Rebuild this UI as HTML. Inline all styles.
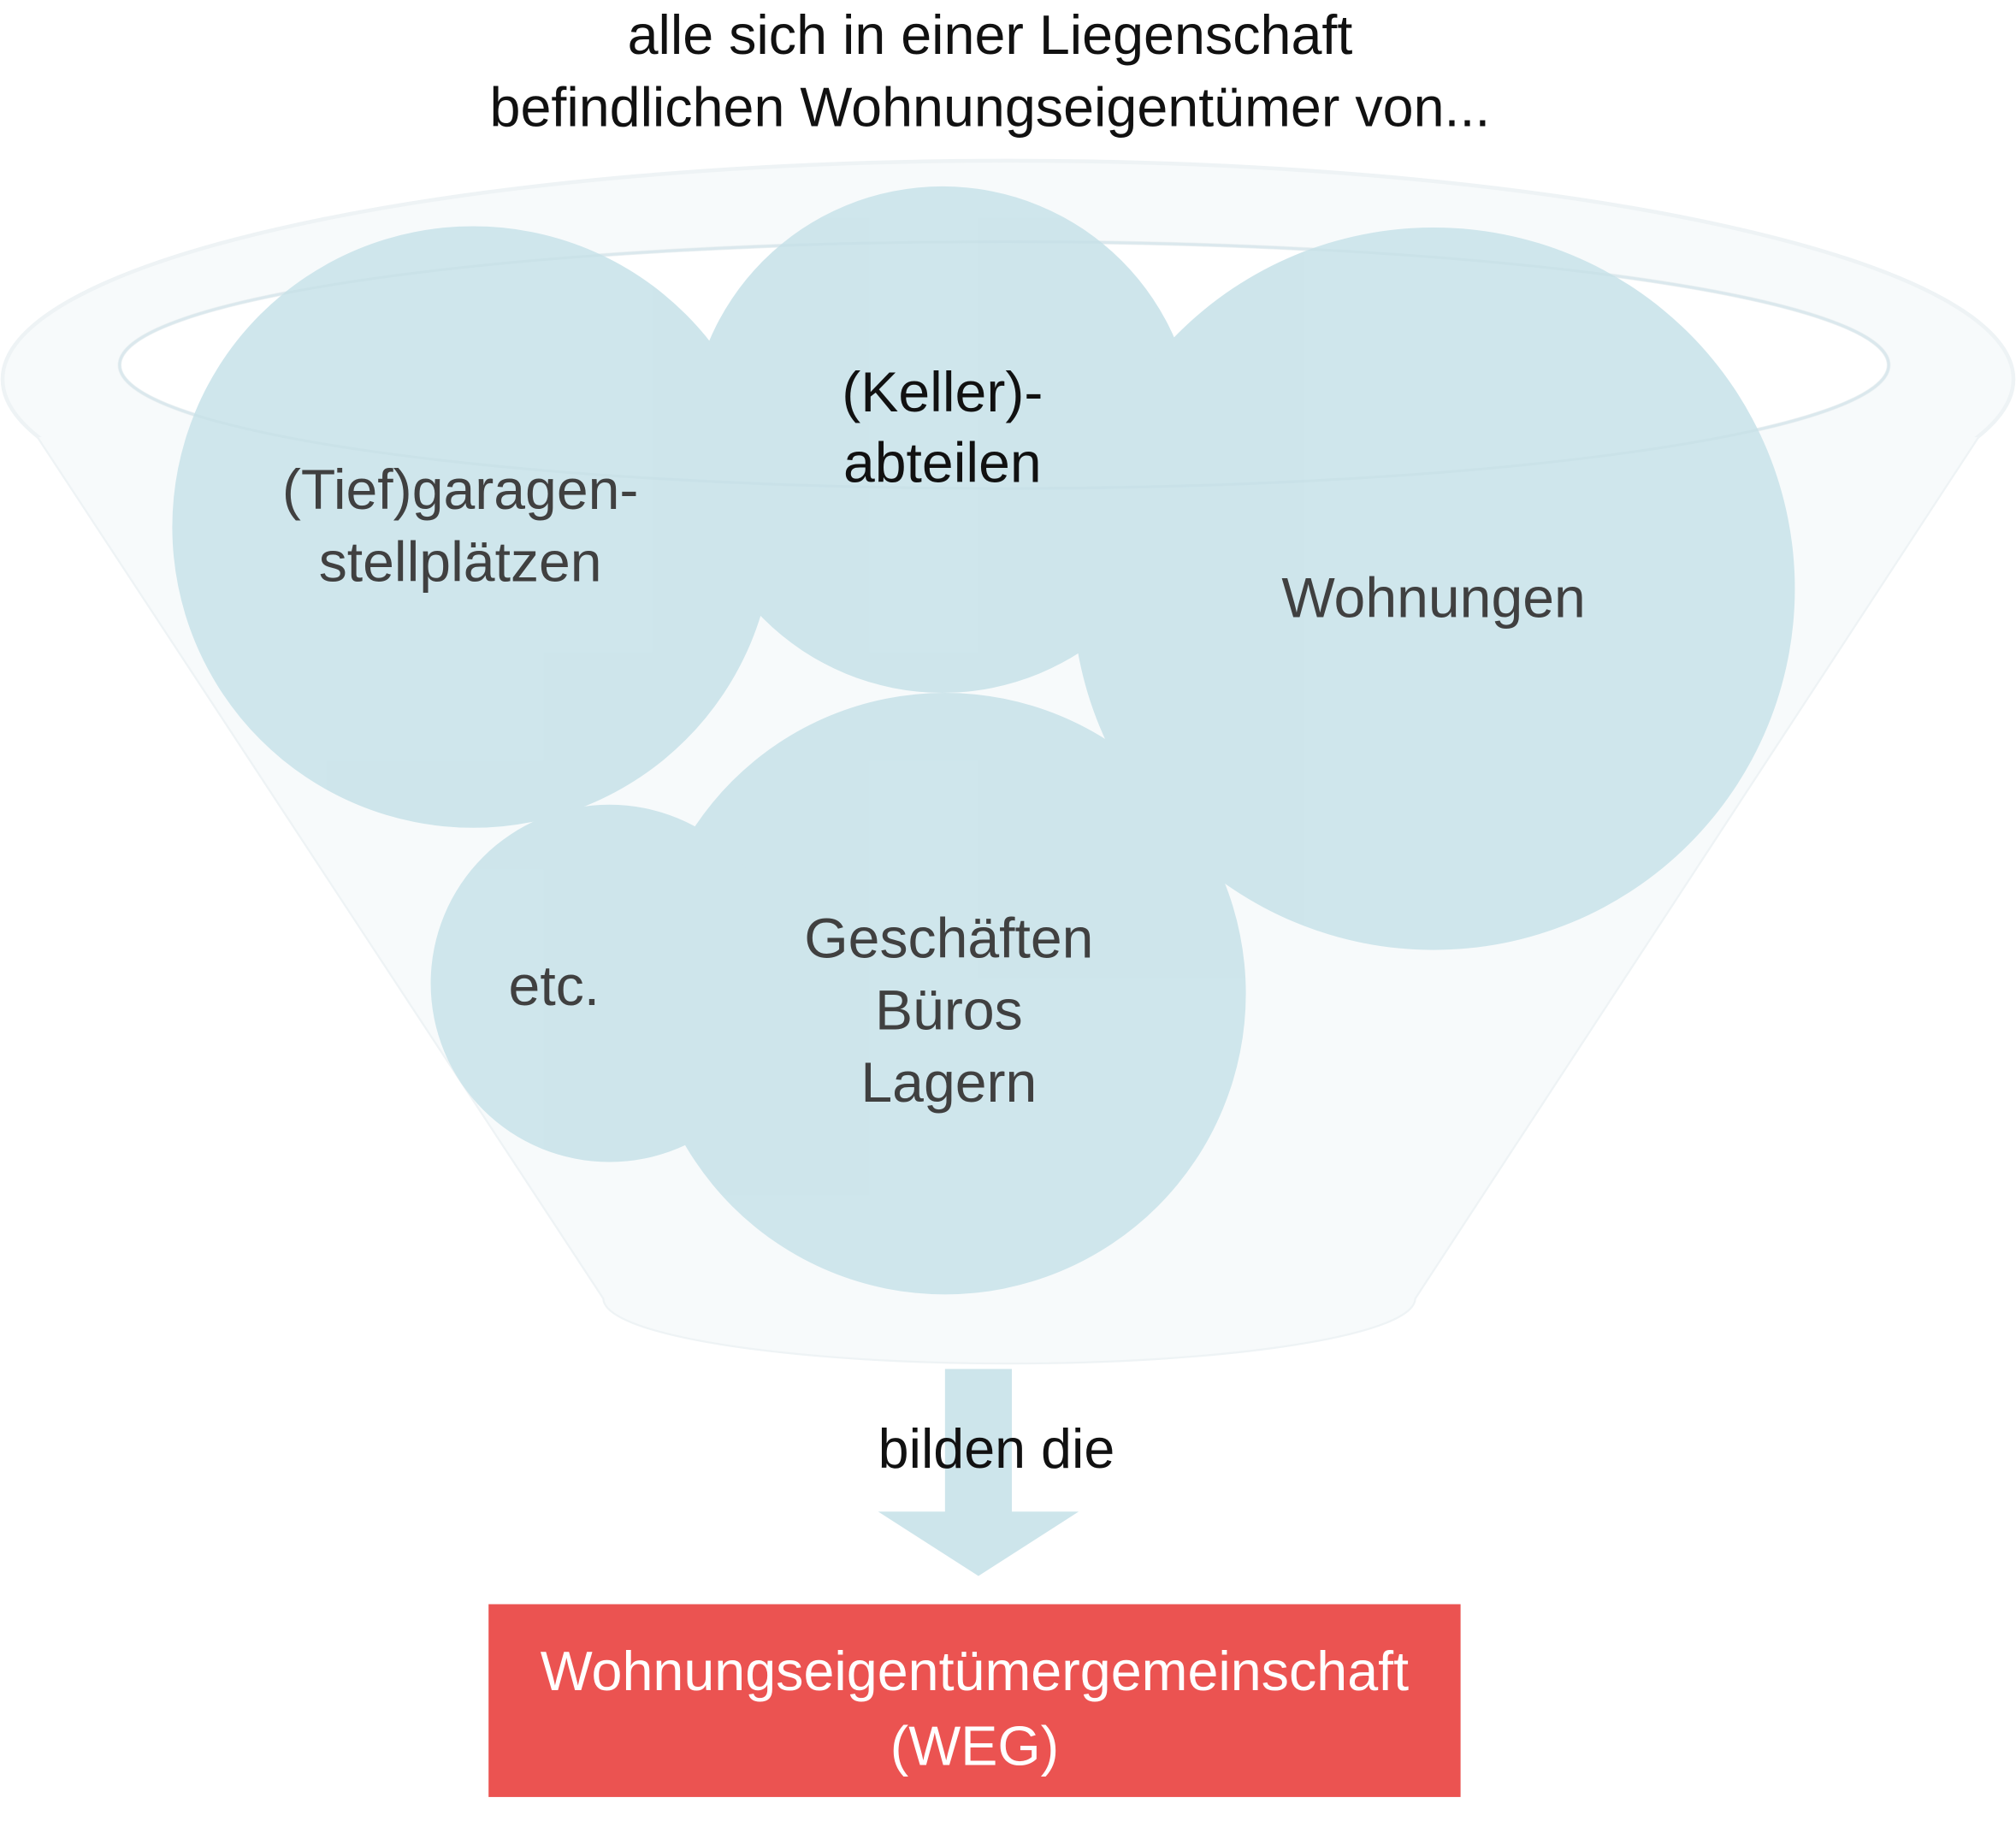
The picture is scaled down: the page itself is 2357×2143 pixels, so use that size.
<!DOCTYPE html>
<html><head><meta charset="utf-8"><style>
html,body{margin:0;padding:0;background:#fff;}
svg{display:block;}
text{font-family:"Liberation Sans",sans-serif;}
</style></head><body>
<svg width="2357" height="2143" viewBox="0 0 1568 1426" preserveAspectRatio="none" xmlns="http://www.w3.org/2000/svg">
<!-- funnel body: strokes first, then fills over to create union outline -->
<path d="M30,340 L470,1010 A315,50 0 0 0 1100,1010 L1538,340 Z" fill="#f7fafb" stroke="#eef3f5" stroke-width="3"/>
<ellipse cx="784" cy="295" rx="782" ry="170" fill="#f7fafb" stroke="#eef3f5" stroke-width="3"/>
<path d="M30,340 L470,1010 A315,50 0 0 0 1100,1010 L1538,340 Z" fill="#f7fafb"/>
<ellipse cx="781" cy="284" rx="688" ry="96" fill="#fff" stroke="#ebf1f3" stroke-width="3"/>
<!-- circles -->
<g fill="#cde5eb" opacity="0.97">
<circle cx="368" cy="410" r="234"/>
<circle cx="733" cy="342" r="197"/>
<circle cx="1115" cy="458" r="281"/>
<circle cx="735" cy="773" r="234"/>
<circle cx="474" cy="765" r="139"/>
</g>
<ellipse cx="781" cy="284" rx="688" ry="96" fill="none" stroke="#c4dde3" stroke-width="2" opacity="0.4"/>
<!-- labels -->
<g font-size="44" fill="#404040" text-anchor="middle">
<text x="358" y="396">(Tief)garagen-</text>
<text x="358" y="452">stellplätzen</text>
<text x="733" y="320" fill="#111">(Keller)-</text>
<text x="733" y="375" fill="#111">abteilen</text>
<text x="1115" y="480">Wohnungen</text>
<text x="738" y="745">Geschäften</text>
<text x="738" y="801">Büros</text>
<text x="738" y="857">Lagern</text>
<text x="431" y="782">etc.</text>
</g>
<g font-size="43" fill="#111" text-anchor="middle">
<text x="770" y="42">alle sich in einer Liegenschaft</text>
<text x="770" y="98">befindlichen Wohnungseigentümer von...</text>
</g>
<!-- arrow -->
<path d="M735,1065 H787 V1176 H839 L761,1226 L683,1176 H735 Z" fill="#cde5eb"/>
<text x="775" y="1142" font-size="43" fill="#111" text-anchor="middle">bilden die</text>
<!-- box -->
<rect x="380" y="1248" width="756" height="150" fill="#eb5351"/>
<g font-size="43" fill="#fff" text-anchor="middle">
<text x="758" y="1315">Wohnungseigentümergemeinschaft</text>
<text x="758" y="1373">(WEG)</text>
</g>
</svg>
</body></html>
